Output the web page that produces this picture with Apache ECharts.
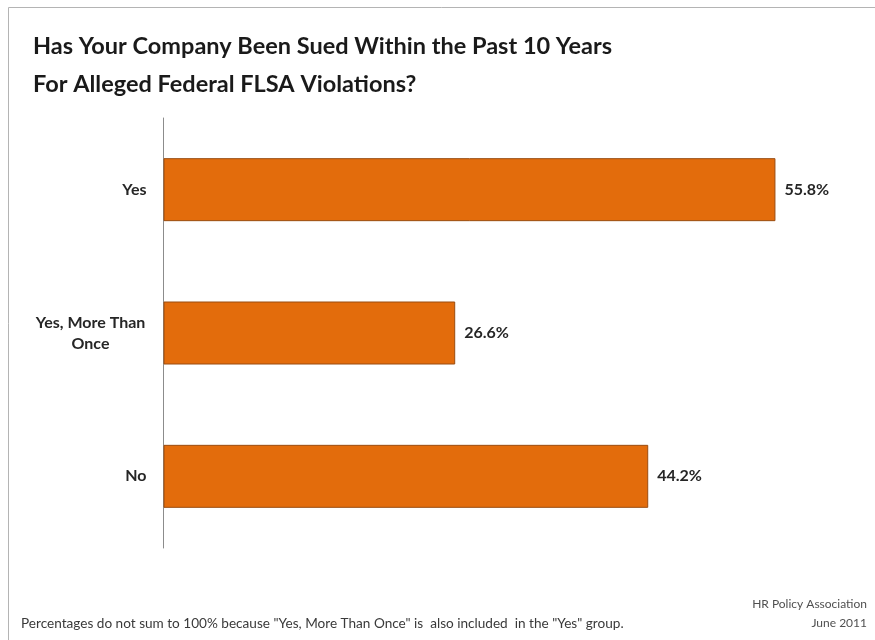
<!DOCTYPE html>
<html>
<head>
<meta charset="utf-8">
<script src="https://cdn.jsdelivr.net/npm/echarts@6/dist/echarts.min.js"></script>
<style>
  html, body { margin: 0; padding: 0; background: #fff; }
  #chart { width: 875px; height: 640px; }
</style>
</head>
<body>
<div id="chart"></div>
<script>
// Survey answers, top to bottom
const categories = ['Yes', 'Yes, More Than Once', 'No'];
const percentValues = [55.8, 26.6, 44.2];

const titleLines = [
  'Has Your Company Been Sued Within the Past 10 Years',
  'For Alleged Federal FLSA Violations?'
];
const footnoteText = 'Percentages do not sum to 100% because "Yes, More Than Once" is  also included  in the "Yes" group.';
const sourceLines = ['HR Policy Association', 'June 2011'];

const FONT = 'Lato, "Open Sans", sans-serif';
const LABEL_BOX = 112; // width of the category label column

const chart = echarts.init(document.getElementById('chart'));

chart.setOption({
  backgroundColor: '#ffffff',
  animation: false,
  title: {
    text: titleLines.join('\n'),
    left: 28,
    top: 22,
    textStyle: {
      fontFamily: FONT,
      fontWeight: 'bold',
      fontSize: 23.5,
      lineHeight: 38,
      color: '#1a1a1a'
    }
  },
  grid: {
    left: 163.5,
    top: 118,
    width: 658,
    height: 430,
    containLabel: false
  },
  xAxis: {
    type: 'value',
    min: 0,
    max: 60,
    show: false
  },
  yAxis: {
    type: 'category',
    inverse: true,
    data: categories,
    axisLine: { show: true, lineStyle: { color: '#8c8c8c', width: 1 } },
    axisTick: { show: false },
    axisLabel: {
      // labels are centred in a column; short ones sit flush right in it
      align: 'center',
      margin: 17 + LABEL_BOX / 2,
      formatter: function (v) {
        if (v === 'Yes, More Than Once') {
          return 'Yes, More Than\nOnce';
        }
        return '{r|' + v + '}';
      },
      fontFamily: FONT,
      fontWeight: 'bold',
      fontSize: 16,
      lineHeight: 21,
      color: '#262626',
      rich: {
        r: {
          width: LABEL_BOX,
          align: 'right',
          fontFamily: FONT,
          fontWeight: 'bold',
          fontSize: 16,
          color: '#262626'
        }
      }
    }
  },
  series: [{
    type: 'bar',
    data: percentValues,
    barWidth: 63,
    itemStyle: {
      color: '#e36c0c',
      borderColor: '#9a4c10',
      borderWidth: 1
    },
    label: {
      show: true,
      position: 'right',
      distance: 9,
      formatter: function (p) { return p.value.toFixed(1) + '%'; },
      fontFamily: FONT,
      fontWeight: 'bold',
      fontSize: 16,
      color: '#262626'
    }
  }],
  graphic: [
    {
      type: 'polyline',
      shape: { points: [[8.5, 640], [8.5, 7.5], [875, 7.5]] },
      style: { stroke: '#b4b4b4', lineWidth: 1, fill: null }
    },
    {
      type: 'text',
      left: 21,
      top: 617,
      style: {
        text: footnoteText,
        fontFamily: FONT,
        fontSize: 13.6,
        fill: '#3a3a3a'
      }
    },
    {
      type: 'text',
      right: 8,
      top: 598,
      style: {
        text: sourceLines[0],
        fontFamily: FONT,
        fontSize: 12,
        fill: '#505050'
      }
    },
    {
      type: 'text',
      right: 8,
      top: 617,
      style: {
        text: sourceLines[1],
        fontFamily: FONT,
        fontSize: 12,
        fill: '#505050'
      }
    }
  ]
});
</script>
</body>
</html>
